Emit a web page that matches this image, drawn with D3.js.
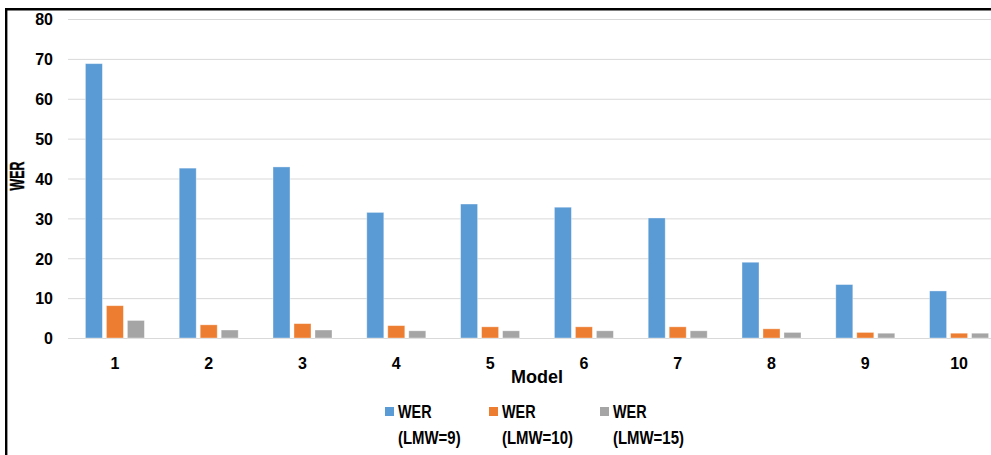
<!DOCTYPE html>
<html>
<head>
<meta charset="utf-8">
<script src="https://cdn.jsdelivr.net/npm/d3@7/dist/d3.min.js"></script>
<style>
  html, body { margin: 0; padding: 0; background: #fff; }
  svg { display: block; }
  text { font-family: "Liberation Sans", Arial, sans-serif; font-weight: bold; fill: #000; }
</style>
</head>
<body>
<svg id="chart" width="991" height="455"></svg>
<script>
const categories = ["1", "2", "3", "4", "5", "6", "7", "8", "9", "10"];
const seriesNames = ["WER (LMW=9)", "WER (LMW=10)", "WER (LMW=15)"];
const legendLine1 = ["WER", "WER", "WER"];
const legendLine2 = ["(LMW=9)", "(LMW=10)", "(LMW=15)"];
const lmw9  = [68.8, 42.6, 42.9, 31.5, 33.6, 32.8, 30.1, 19.0, 13.4, 11.8];
const lmw10 = [8.1, 3.3, 3.6, 3.1, 2.8, 2.8, 2.8, 2.3, 1.4, 1.2];
const lmw15 = [4.4, 2.0, 2.0, 1.8, 1.8, 1.8, 1.8, 1.4, 1.2, 1.2];
const yTicks = [0, 10, 20, 30, 40, 50, 60, 70, 80];
const colors = ["#5B9BD5", "#ED7D31", "#A5A5A5"];

const seriesValues = [lmw9, lmw10, lmw15];
const table = categories.map((c, i) => ({
  cat: c,
  vals: seriesNames.map((s, j) => ({ key: s, value: seriesValues[j][i], color: colors[j] }))
}));

const svg = d3.select("#chart");
const W = 991, H = 455;
const plot = { left: 68, right: 1006, top: 19, bottom: 338 };

const x0 = d3.scaleBand().domain(categories).range([plot.left, plot.right])
  .paddingInner(0.371).paddingOuter(0.1855);
const x1 = d3.scaleBand().domain(seriesNames).range([0, x0.bandwidth()])
  .paddingInner(0.19).paddingOuter(0);
const y = d3.scaleLinear().domain([0, 80]).range([plot.bottom, plot.top]);

// gridlines
const yAxis = d3.axisLeft(y).tickValues(yTicks).tickSize(-(W - plot.left)).tickPadding(15);
const gy = svg.append("g").attr("transform", `translate(${plot.left},0)`).call(yAxis);
gy.select(".domain").remove();
gy.selectAll(".tick line").attr("stroke", "#d9d9d9").attr("stroke-width", 1);
gy.selectAll(".tick text").style("font-size", "16px").attr("dy", "0.36em");

// bars
const groups = svg.append("g").selectAll("g").data(table).join("g")
  .attr("transform", d => `translate(${x0(d.cat)},0)`);
groups.selectAll("rect").data(d => d.vals).join("rect")
  .attr("x", d => x1(d.key))
  .attr("width", x1.bandwidth())
  .attr("y", d => y(d.value))
  .attr("height", d => y(0) - y(d.value))
  .attr("fill", d => d.color)
  .attr("stroke", "#ffffff").attr("stroke-opacity", 0.45).attr("stroke-width", 0.8);

// x axis labels
const xAxis = d3.axisBottom(x0).tickSize(0).tickPadding(20);
const gx = svg.append("g").attr("transform", `translate(0,${plot.bottom})`).call(xAxis);
gx.select(".domain").remove();
gx.selectAll(".tick text").style("font-size", "16px");

// axis titles
svg.append("text").attr("x", (plot.left + plot.right) / 2).attr("y", 383)
  .attr("text-anchor", "middle").style("font-size", "18px").text("Model");

svg.append("text")
  .attr("transform", "translate(24,176) rotate(-90) scale(0.62,1)")
  .attr("text-anchor", "middle").style("font-size", "20px")
  .attr("stroke", "#000").attr("stroke-width", 0.4).text("WER");

// legend
const legX = [385, 489, 600];
const leg = svg.append("g").selectAll("g").data(seriesNames).join("g")
  .attr("transform", (d, i) => `translate(${legX[i]},0)`);
leg.append("rect").attr("x", 0).attr("y", 407).attr("width", 9).attr("height", 9)
  .attr("fill", (d, i) => colors[i]);
leg.append("text").attr("transform", "translate(13,418) scale(0.8,1)")
  .style("font-size", "18px").text((d, i) => legendLine1[i]);
leg.append("text").attr("transform", "translate(13,444) scale(0.83,1)")
  .style("font-size", "18px").text((d, i) => legendLine2[i]);

// frame border
svg.append("line").attr("x1", 5).attr("x2", W).attr("y1", 9.2).attr("y2", 9.2)
  .attr("stroke", "#000").attr("stroke-width", 2.4);
svg.append("line").attr("x1", 6.2).attr("x2", 6.2).attr("y1", 8).attr("y2", H)
  .attr("stroke", "#000").attr("stroke-width", 2.4);
</script>
</body>
</html>
